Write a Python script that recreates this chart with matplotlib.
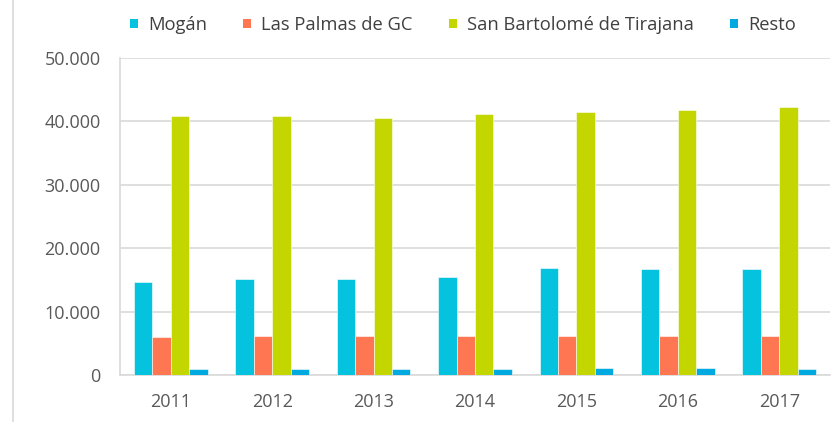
import matplotlib.pyplot as plt
import matplotlib.ticker as mticker
from matplotlib.patches import Patch
import numpy as np

plt.rcParams['font.family'] = ['Open Sans', 'DejaVu Sans']

years = ["2011", "2012", "2013", "2014", "2015", "2016", "2017"]
mogan = [14670, 15090, 15100, 15460, 16830, 16770, 16720]
las_palmas = [6040, 6150, 6100, 6100, 6200, 6150, 6150]
san_bartolome = [40900, 40850, 40540, 41170, 41430, 41750, 42320]
resto = [900, 900, 1000, 1000, 1100, 1100, 990]

series = ["Mogán", "Las Palmas de GC", "San Bartolomé de Tirajana", "Resto"]
colors = ["#05C3DE", "#FF7752", "#C4D600", "#00A9E0"]

fig = plt.figure(figsize=(8.31, 4.22), dpi=100)
ax = fig.add_axes([120 / 831, 47 / 422, 710 / 831, 317 / 422])

x = np.arange(len(years))
w = 0.182
for i, (vals, c) in enumerate(zip([mogan, las_palmas, san_bartolome, resto], colors)):
    ax.bar(x + (i - 1.5) * w, vals, w, color=c, edgecolor="white", linewidth=0.4, zorder=3)

ax.set_xlim(-0.5, len(years) - 0.5)
ax.set_ylim(0, 50000)
ax.set_xticks(x)
ax.set_xticklabels(years)
ax.yaxis.set_major_locator(mticker.MultipleLocator(10000))
ax.yaxis.set_major_formatter(mticker.FuncFormatter(lambda v, p: f"{int(v):,}".replace(",", ".")))
ax.tick_params(axis="both", length=0, labelsize=13, colors="#595959")
ax.tick_params(axis="y", pad=14)
ax.tick_params(axis="x", pad=13)
ax.grid(axis="y", color="#D9D9D9", linewidth=1.2, zorder=0)
for s in ["top", "right"]:
    ax.spines[s].set_visible(False)
for s in ["left", "bottom"]:
    ax.spines[s].set_color("#D9D9D9")
    ax.spines[s].set_linewidth(1.2)

handles = [Patch(facecolor=c, edgecolor="none") for c in colors]
fig.legend(handles, series, loc="center left", bbox_to_anchor=(130 / 831, 1 - 25 / 422),
           ncol=4, frameon=False, fontsize=13.2, handlelength=0.45, handleheight=0.45,
           handletextpad=0.55, columnspacing=1.95, borderpad=0, borderaxespad=0,
           labelcolor="#404040")

fig.add_artist(plt.Line2D([13 / 831, 13 / 831], [0, 1], color="#D9D9D9", linewidth=1.2))

fig.savefig("out.png", dpi=100, facecolor="white")
